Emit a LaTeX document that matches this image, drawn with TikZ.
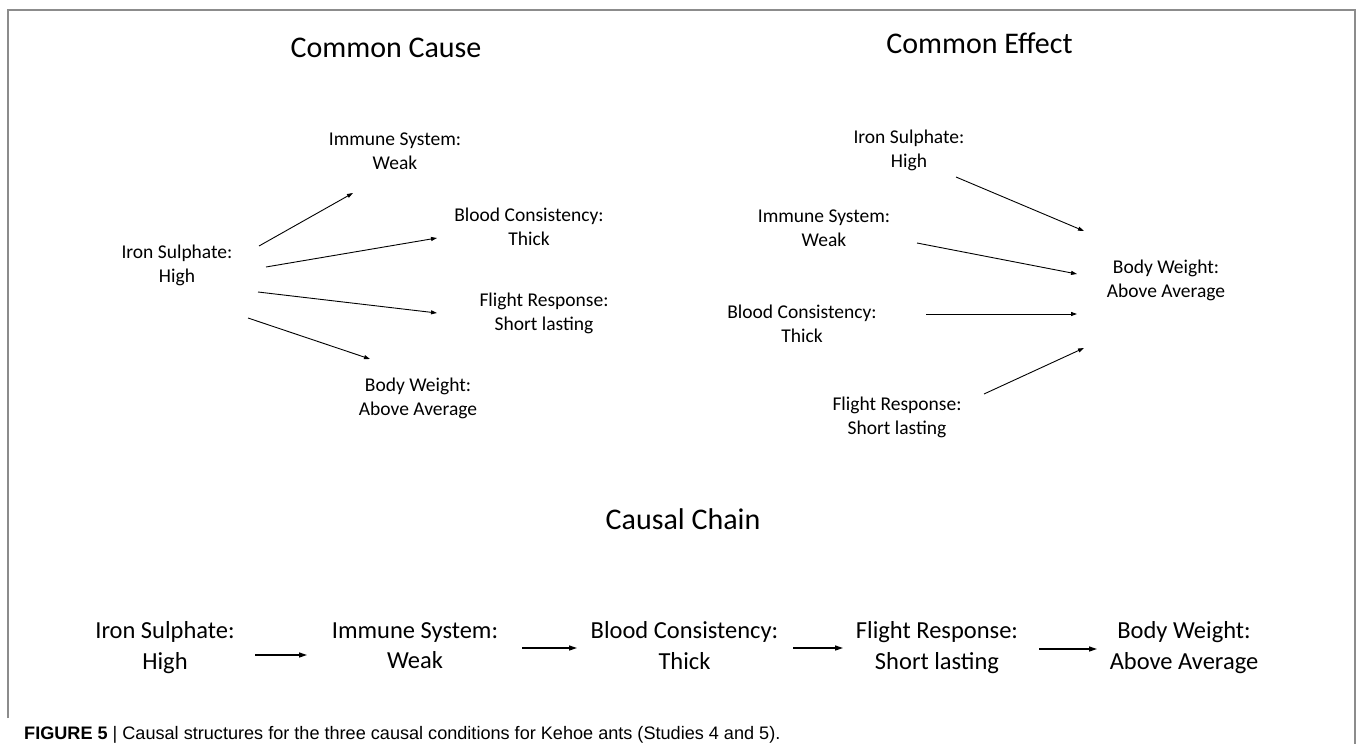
\documentclass[tikz,border=0pt]{standalone}
\usepackage{fontspec}
\setmainfont{Carlito}
\newfontfamily\capfont{Liberation Sans}
\usetikzlibrary{arrows.meta}

\begin{document}
\begin{tikzpicture}[x=1pt,y=-1pt,
  lbl/.style={align=center,inner sep=0pt,font=\fontsize{19.5}{23.8}\selectfont,
    execute at begin node=\strut,execute at end node=\strut},
  chainlbl/.style={lbl,font=\fontsize{24.5}{30.3}\selectfont},
  ttl/.style={inner sep=0pt,font=\fontsize{30}{36}\selectfont},
  arr/.style={-{Triangle[length=6pt,width=4pt]},line width=0.9pt},
  chainarr/.style={-{Triangle[length=8pt,width=5pt]},line width=1.3pt}]
\useasboundingbox (0,0) rectangle (1357,744);
% frame
\draw[black!45,line width=1.6pt] (8,718) -- (8,10) -- (1355,10) -- (1355,744);

% common cause
\node[ttl] (cc-title) at (386,47.5) {Common Cause};
\node[lbl] (cc-iron) at (177,267) {Iron Sulphate:\\High};
\node[lbl] (cc-imm) at (395,155) {Immune System:\\Weak};
\node[lbl] (cc-blood) at (529,230) {Blood Consistency:\\Thick};
\node[lbl] (cc-flight) at (544,315) {Flight Response:\\Short lasting};
\node[lbl] (cc-body) at (418,400) {Body Weight:\\Above Average};
\draw[arr] ([shift={(82,-21)}]cc-iron.center) -- ([shift={(-42,38)}]cc-imm.center);
\draw[arr] ([shift={(89,0)}]cc-iron.center) -- ([shift={(-92,8)}]cc-blood.center);
\draw[arr] ([shift={(81,25)}]cc-iron.center) -- ([shift={(-107,-2)}]cc-flight.center);
\draw[arr] ([shift={(71,51)}]cc-iron.center) -- ([shift={(-48,-41)}]cc-body.center);

% common effect
\node[ttl] (ce-title) at (979.5,43.5) {Common Effect};
\node[lbl] (ce-iron) at (909,152) {Iron Sulphate:\\High};
\node[lbl] (ce-imm) at (824,232) {Immune System:\\Weak};
\node[lbl] (ce-blood) at (802,327) {Blood Consistency:\\Thick};
\node[lbl] (ce-flight) at (897,419) {Flight Response:\\Short lasting};
\node[lbl] (ce-body) at (1166,282) {Body Weight:\\Above Average};
\draw[arr] ([shift={(47,25)}]ce-iron.center) -- ([shift={(-82,-51)}]ce-body.center);
\draw[arr] ([shift={(93,11)}]ce-imm.center) -- ([shift={(-89,-8)}]ce-body.center);
\draw[arr] ([shift={(124,-13)}]ce-blood.center) -- ([shift={(-89,32)}]ce-body.center);
\draw[arr] ([shift={(87,-25)}]ce-flight.center) -- ([shift={(-82,66)}]ce-body.center);

% causal chain
\node[ttl] (ch-title) at (683,519) {Causal Chain};
\node[chainlbl] (ch-iron) at (165,650) {Iron Sulphate:\\High};
\node[chainlbl] (ch-imm) at (415,650) {Immune System:\\Weak};
\node[chainlbl] (ch-blood) at (684.5,650) {Blood Consistency:\\Thick};
\node[chainlbl] (ch-flight) at (937,650) {Flight Response:\\Short lasting};
\node[chainlbl] (ch-body) at (1184,650) {Body Weight:\\Above Average};
\draw[chainarr] ([shift={(90,5)}]ch-iron.center) -- ([shift={(-108,5)}]ch-imm.center);
\draw[chainarr] ([shift={(107,-2)}]ch-imm.center) -- ([shift={(-107.5,-2)}]ch-blood.center);
\draw[chainarr] ([shift={(108.5,-2)}]ch-blood.center) -- ([shift={(-94,-2)}]ch-flight.center);
\draw[chainarr] ([shift={(102,-1)}]ch-flight.center) -- ([shift={(-87,-1)}]ch-body.center);

% caption
\node[anchor=base west,inner sep=0pt,font=\capfont\fontsize{18.1}{22}\selectfont] (caption) at (24,739)
  {\textbf{FIGURE 5} | Causal structures for the three causal conditions for Kehoe ants (Studies 4 and 5).};
\end{tikzpicture}
\end{document}
